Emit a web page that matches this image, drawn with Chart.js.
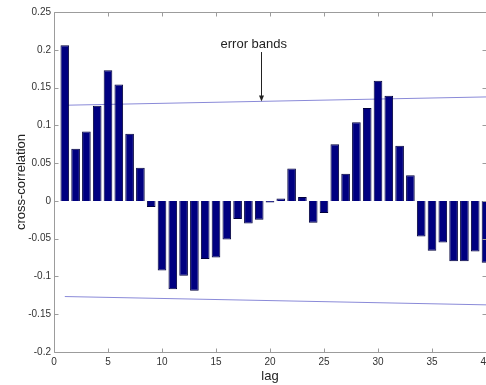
<!DOCTYPE html>
<html>
<head>
<meta charset="utf-8">
<script src="https://cdn.jsdelivr.net/npm/chart.js@4"></script>
<style>
  html, body { margin: 0; padding: 0; background: #fff; overflow: hidden; }
  #wrap { width: 486px; height: 385px; overflow: hidden; position: relative; }
  canvas { display: block; }
</style>
</head>
<body>
<div id="wrap"><canvas id="c" width="560" height="385" style="width:560px;height:385px"></canvas></div>
<script>
// Sample cross-correlation at lags 1..40
const lags = [1, 2, 3, 4, 5, 6, 7, 8, 9, 10,
              11, 12, 13, 14, 15, 16, 17, 18, 19, 20,
              21, 22, 23, 24, 25, 26, 27, 28, 29, 30,
              31, 32, 33, 34, 35, 36, 37, 38, 39, 40];
const xcorr = [0.206, 0.069, 0.092, 0.126, 0.173, 0.154, 0.089, 0.044, -0.008, -0.092,
               -0.117, -0.099, -0.119, -0.077, -0.075, -0.051, -0.024, -0.030, -0.025, -0.002,
               0.003, 0.043, 0.005, -0.029, -0.016, 0.075, 0.036, 0.104, 0.123, 0.159,
               0.139, 0.073, 0.034, -0.047, -0.066, -0.055, -0.080, -0.080, -0.067, -0.082];

// Approximate two-standard-error bands
const bandLags = [1, 40];
const bandUpper = [0.1266, 0.1376];
const bandLower = [-0.1266, -0.1376];

// Axis ticks
const xTickValues = [0, 5, 10, 15, 20, 25, 30, 35, 40];
const xTickLabels = ['0', '5', '10', '15', '20', '25', '30', '35', '40'];
const yTickValues = [-0.2, -0.15, -0.1, -0.05, 0, 0.05, 0.1, 0.15, 0.2, 0.25];
const yTickLabels = ['-0.2', '-0.15', '-0.1', '-0.05', '0', '0.05', '0.1', '0.15', '0.2', '0.25'];

// Callout pointing at the upper band
const noteText = 'error bands';
const noteTextAt = { x: 18.5, y: 0.2075 };
const noteArrowFrom = { x: 19.2, y: 0.197 };
const noteArrowTo = { x: 19.2, y: 0.1315 };

const FONT = '"Liberation Sans", Arial, Helvetica, sans-serif';
const TEXT = '#333333';
const FRAME = '#9c9c9c';
const CANVAS_W = 560;
const VISIBLE_W = 486;

// Box around the plot area with inward tick marks on all four sides
const framePlugin = {
  id: 'frame',
  afterDatasetsDraw(chart) {
    const { ctx, chartArea: a, scales: { x, y } } = chart;
    const L = Math.round(a.left) + 0.5, R = Math.round(a.right) + 0.5;
    const T = Math.round(a.top) + 0.5, B = Math.round(a.bottom) + 0.5;
    const tick = 4;
    ctx.save();
    ctx.strokeStyle = FRAME;
    ctx.lineWidth = 1;
    ctx.beginPath();
    ctx.moveTo(L, T); ctx.lineTo(R, T); ctx.lineTo(R, B); ctx.lineTo(L, B); ctx.closePath();
    xTickValues.forEach(v => {
      const px = Math.round(x.getPixelForValue(v)) + 0.5;
      ctx.moveTo(px, B); ctx.lineTo(px, B - tick);
      ctx.moveTo(px, T); ctx.lineTo(px, T + tick);
    });
    yTickValues.forEach(v => {
      const py = Math.round(y.getPixelForValue(v)) + 0.5;
      ctx.moveTo(L, py); ctx.lineTo(L + tick, py);
      ctx.moveTo(R, py); ctx.lineTo(R - tick, py);
    });
    ctx.stroke();
    ctx.restore();
  }
};

// Text label with an arrow down to the band line
const notePlugin = {
  id: 'note',
  afterDatasetsDraw(chart) {
    const { ctx, scales: { x, y } } = chart;
    ctx.save();
    ctx.fillStyle = '#222222';
    ctx.font = '13px ' + FONT;
    ctx.textAlign = 'center';
    ctx.textBaseline = 'middle';
    ctx.fillText(noteText, x.getPixelForValue(noteTextAt.x), y.getPixelForValue(noteTextAt.y));

    const ax = Math.round(x.getPixelForValue(noteArrowFrom.x)) + 0.5;
    const y0 = y.getPixelForValue(noteArrowFrom.y);
    const y1 = y.getPixelForValue(noteArrowTo.y);
    ctx.strokeStyle = '#222222';
    ctx.lineWidth = 1;
    ctx.beginPath();
    ctx.moveTo(ax, y0);
    ctx.lineTo(ax, y1 - 5);
    ctx.stroke();
    ctx.beginPath();
    ctx.moveTo(ax - 2.5, y1 - 6);
    ctx.lineTo(ax + 2.5, y1 - 6);
    ctx.lineTo(ax, y1);
    ctx.closePath();
    ctx.fill();
    ctx.restore();
  }
};

new Chart(document.getElementById('c'), {
  type: 'bar',
  data: {
    datasets: [
      {
        type: 'bar',
        data: lags.map((l, i) => ({ x: l, y: xcorr[i] })),
        backgroundColor: '#000080',
        borderColor: '#00003c',
        borderWidth: 1,
        barPercentage: 0.8,
        categoryPercentage: 1,
        order: 0
      },
      {
        type: 'line',
        data: bandLags.map((l, i) => ({ x: l, y: bandUpper[i] })),
        borderColor: '#8a8ad8',
        borderWidth: 1,
        pointRadius: 0,
        fill: false,
        tension: 0,
        order: 1
      },
      {
        type: 'line',
        data: bandLags.map((l, i) => ({ x: l, y: bandLower[i] })),
        borderColor: '#8a8ad8',
        borderWidth: 1,
        pointRadius: 0,
        fill: false,
        tension: 0,
        order: 1
      }
    ]
  },
  options: {
    responsive: false,
    devicePixelRatio: 1,
    animation: false,
    layout: { padding: { left: 0, top: 12, right: CANVAS_W - VISIBLE_W, bottom: 0 } },
    plugins: { legend: { display: false }, tooltip: { enabled: false } },
    scales: {
      x: {
        type: 'linear',
        min: 0,
        max: 40,
        offset: false,
        grid: { display: false, drawTicks: false, offset: false },
        border: { display: false },
        afterBuildTicks: s => { s.ticks = xTickValues.map(v => ({ value: v })); },
        afterFit: s => { s.height = 33; },
        ticks: {
          autoSkip: false,
          maxRotation: 0,
          padding: 4,
          color: TEXT,
          font: { family: FONT, size: 10 },
          callback: (v, i) => xTickLabels[i]
        },
        title: {
          display: true,
          text: 'lag',
          color: '#222222',
          font: { family: FONT, size: 13 },
          padding: { top: 0, bottom: 1 }
        }
      },
      y: {
        type: 'linear',
        min: -0.2,
        max: 0.25,
        grid: { display: false, drawTicks: false },
        border: { display: false },
        afterBuildTicks: s => { s.ticks = yTickValues.map(v => ({ value: v })); },
        afterFit: s => { s.width = 54; },
        ticks: {
          autoSkip: false,
          padding: 3,
          color: TEXT,
          font: { family: FONT, size: 10 },
          callback: (v, i) => yTickLabels[i]
        },
        title: {
          display: true,
          text: 'cross-correlation',
          color: '#222222',
          font: { family: FONT, size: 13 },
          padding: { top: 14, bottom: 0 }
        }
      }
    }
  },
  plugins: [framePlugin, notePlugin]
});
</script>
</body>
</html>
